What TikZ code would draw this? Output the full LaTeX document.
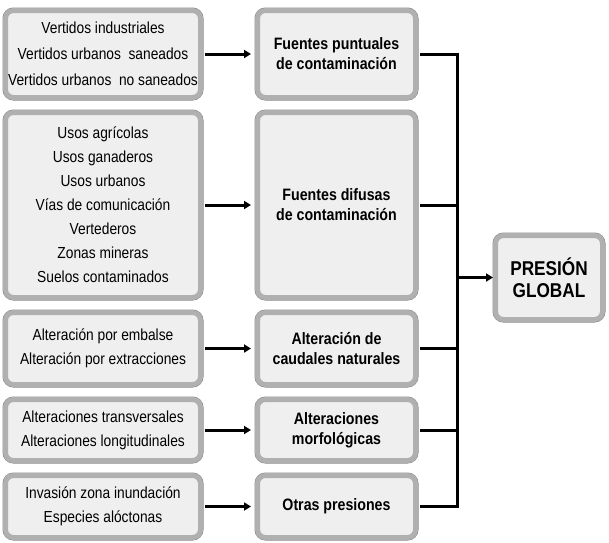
\documentclass[tikz,border=0pt]{standalone}
\usepackage{fontspec}
\setmainfont[FakeStretch=0.86]{Liberation Sans}
\usetikzlibrary{arrows.meta,shadows}
\definecolor{cajafondo}{HTML}{EFEFEF}
\definecolor{cajaborde}{HTML}{B0B0B0}
\definecolor{cajarim}{HTML}{888888}
\begin{document}
\begin{tikzpicture}[x=1pt, y=-1pt,
    caja/.style={draw=cajaborde, line width=5pt, fill=cajafondo, rounded corners=8pt,
        preaction={draw=cajarim, line width=6pt},
        drop shadow={shadow xshift=1pt, shadow yshift=-1.5pt, opacity=.25},
        align=center, inner sep=0pt, text=black},
    origen/.style={caja, minimum width=195pt, font=\fontsize{16}{24}\selectfont},
    tipo/.style={caja, minimum width=158pt, font=\bfseries\fontsize{16.5}{20}\selectfont},
    flecha/.style={-{Triangle[length=7pt,width=8pt]}, line width=3pt},
    linea/.style={line width=3pt}]
    \useasboundingbox (0,0) rectangle (609,542);

    % Origen de las presiones
    \node[origen, minimum height=87pt] (vertidos) at (103,54) {Vertidos industriales\\[2pt]Vertidos urbanos \ saneados\\[2pt]Vertidos urbanos \ no saneados};
    \node[origen, minimum height=185pt] (usos) at (103,205) {Usos agrícolas\\Usos ganaderos\\Usos urbanos\\Vías de comunicación\\Vertederos\\Zonas mineras\\Suelos contaminados};
    \node[origen, minimum height=72pt] (caudal) at (103,348.5) {Alteración por embalse\\Alteración por extracciones};
    \node[origen, minimum height=61pt] (morfo) at (103,430) {Alteraciones transversales\\Alteraciones longitudinales};
    \node[origen, minimum height=62pt] (otros) at (103,506.5) {Invasión zona inundación\\Especies alóctonas};

    % Tipos de presion
    \node[tipo, minimum height=87pt] (puntuales) at (336.5,54) {Fuentes puntuales\\de contaminación};
    \node[tipo, minimum height=185pt] (difusas) at (336.5,205) {Fuentes difusas\\de contaminación};
    \node[tipo, minimum height=72pt] (caudales) at (336.5,348.5) {Alteración de\\caudales naturales};
    \node[tipo, minimum height=61pt] (morfologicas) at (336.5,430) {Alteraciones\\morfológicas};
    \node[tipo, minimum height=62pt] (otras) at (336.5,506.5) {Otras presiones};

    % Presion global
    \node[caja, minimum width=107pt, minimum height=84pt, font=\bfseries\fontsize{20}{22}\selectfont] (global) at (549,277.5) {PRESIÓN\\GLOBAL};
    \coordinate (bus) at (457,277.5);

    % Flechas
    \draw[flecha, shorten <=2pt, shorten >=4pt] (vertidos) -- (puntuales);
    \draw[flecha, shorten <=2pt, shorten >=4pt] (usos) -- (difusas);
    \draw[flecha, shorten <=2pt, shorten >=4pt] (caudal) -- (caudales);
    \draw[flecha, shorten <=2pt, shorten >=4pt] (morfo) -- (morfologicas);
    \draw[flecha, shorten <=2pt, shorten >=4pt] (otros) -- (otras);

    \draw[linea, shorten <=2pt] (puntuales.east) -| (bus);
    \draw[linea, shorten <=2pt] (difusas.east) -| (bus);
    \draw[linea, shorten <=2pt] (caudales.east) -| (bus);
    \draw[linea, shorten <=2pt] (morfologicas.east) -| (bus);
    \draw[linea, shorten <=2pt] (otras.east) -| (bus);
    \draw[flecha] (bus) -- (global.west);
\end{tikzpicture}
\end{document}
